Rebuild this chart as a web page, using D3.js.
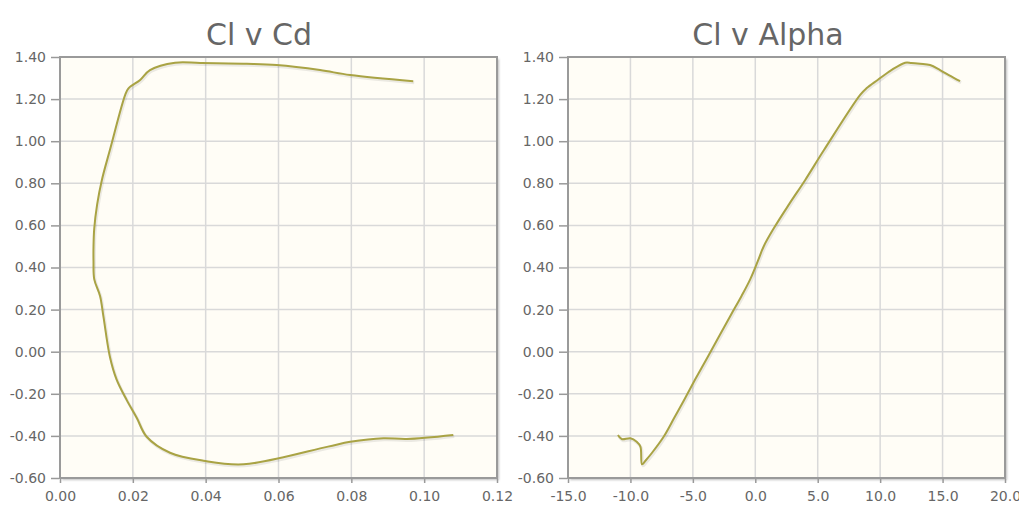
<!DOCTYPE html>
<html>
<head>
<meta charset="utf-8">
<script src="https://cdn.jsdelivr.net/npm/d3@7"></script>
<style>
  html, body { margin: 0; padding: 0; background: #ffffff; }
  svg { display: block; }
  .title { font-family: "DejaVu Sans", sans-serif; font-size: 30px; fill: #666666; }
  .tick text { font-family: "DejaVu Sans", sans-serif; font-size: 14px; fill: #666666; }
</style>
</head>
<body>
<svg id="chart" width="1019" height="508"></svg>
<script>
// Airfoil polar: angle of attack (deg), lift coefficient, drag coefficient
const alpha = [-11.0, -10.7, -10.0, -9.5, -9.2, -9.07, -8.8, -8.27, -7.34, -6.5, -5.7, -4.8, -3.8, -2.0, -1.1, -0.4, 0.2, 0.67, 1.47, 2.7, 4.0, 5.5, 8.4, 8.9, 9.8, 10.9, 12.0, 12.5, 13.2, 14.0, 14.8, 15.5, 16.4];
const cl    = [-0.396, -0.415, -0.411, -0.428, -0.451, -0.535, -0.518, -0.48, -0.404, -0.315, -0.229, -0.13, -0.024, 0.17, 0.265, 0.345, 0.43, 0.50, 0.585, 0.70, 0.816, 0.958, 1.22, 1.251, 1.291, 1.338, 1.373, 1.372, 1.368, 1.362, 1.338, 1.314, 1.285];
const cd    = [0.108, 0.0952, 0.0888, 0.0797, 0.0736, 0.0504, 0.0394, 0.0302, 0.0238, 0.0211, 0.0183, 0.0155, 0.0137, 0.0119, 0.011, 0.0094, 0.0092, 0.0092, 0.0094, 0.0102, 0.0115, 0.0137, 0.0179, 0.0188, 0.022, 0.0247, 0.0316, 0.0385, 0.0513, 0.0595, 0.0714, 0.0797, 0.097];

// Axis ticks
const clTicks    = [-0.6, -0.4, -0.2, 0.0, 0.2, 0.4, 0.6, 0.8, 1.0, 1.2, 1.4];
const cdTicks    = [0.00, 0.02, 0.04, 0.06, 0.08, 0.10, 0.12];
const alphaTicks = [-15, -10, -5, 0, 5, 10, 15, 20];

// Plain hyphen-minus labels with fixed decimals
const fixed = n => d => (Math.abs(d) < 1e-9 ? 0 : d).toFixed(n);

const svg = d3.select("#chart");

const panels = [
  { title: "Cl v Cd", titleX: 259, left: 60, right: 497,
    xs: cd, xDomain: [0, 0.12], xTicks: cdTicks, xFmt: fixed(2) },
  { title: "Cl v Alpha", titleX: 768, left: 568, right: 1005,
    xs: alpha, xDomain: [-15, 20], xTicks: alphaTicks, xFmt: fixed(1) }
];

const plotTop = 57, plotBottom = 478;

const defs = svg.append("defs");
const shadow = defs.append("filter").attr("id", "frameShadow")
  .attr("x", "-5%").attr("y", "-5%").attr("width", "110%").attr("height", "110%");
shadow.append("feDropShadow").attr("dx", 2).attr("dy", 2).attr("stdDeviation", 1.2)
  .attr("flood-color", "#000").attr("flood-opacity", 0.25);

panels.forEach(p => {
  const x = d3.scaleLinear().domain(p.xDomain).range([p.left, p.right]);
  const y = d3.scaleLinear().domain([-0.6, 1.4]).range([plotBottom, plotTop]);
  const g = svg.append("g");

  // Title
  g.append("text").attr("class", "title")
    .attr("x", p.titleX).attr("y", 45)
    .attr("text-anchor", "middle")
    .text(p.title);

  // Plot background with frame shadow
  g.append("rect")
    .attr("x", p.left).attr("y", plotTop)
    .attr("width", p.right - p.left).attr("height", plotBottom - plotTop)
    .attr("fill", "#fffdf6")
    .attr("filter", "url(#frameShadow)");

  // Grid lines
  const grid = g.append("g");
  grid.selectAll(".vg").data(p.xTicks.slice(1, -1)).join("line")
    .attr("x1", d => x(d)).attr("x2", d => x(d))
    .attr("y1", plotTop).attr("y2", plotBottom)
    .attr("stroke", "#d9d9d9").attr("stroke-width", 1.5);
  grid.selectAll(".hg").data(clTicks.slice(1, -1)).join("line")
    .attr("x1", p.left).attr("x2", p.right)
    .attr("y1", d => y(d)).attr("y2", d => y(d))
    .attr("stroke", "#d9d9d9").attr("stroke-width", 1.5);

  // Axes
  const xAxis = d3.axisBottom(x).tickValues(p.xTicks).tickFormat(p.xFmt)
    .tickSizeInner(4).tickSizeOuter(0).tickPadding(8);
  const yAxis = d3.axisLeft(y).tickValues(clTicks).tickFormat(fixed(2))
    .tickSizeInner(8).tickSizeOuter(0).tickPadding(5);

  const gx = g.append("g").attr("transform", `translate(0,${plotBottom + 1})`).call(xAxis);
  gx.select(".domain").remove();
  gx.selectAll(".tick line").attr("stroke", "#999").attr("stroke-width", 1.5);

  const gy = g.append("g").attr("transform", `translate(${p.left - 1},0)`).call(yAxis);
  gy.select(".domain").remove();
  gy.selectAll(".tick line").attr("stroke", "#999").attr("stroke-width", 1.5);

  // Frame
  g.append("rect")
    .attr("x", p.left).attr("y", plotTop)
    .attr("width", p.right - p.left).attr("height", plotBottom - plotTop)
    .attr("fill", "none").attr("stroke", "#9a9a9a").attr("stroke-width", 2);

  // Series
  const pts = p.xs.map((v, i) => [v, cl[i]]);
  const line = d3.line().x(d => x(d[0])).y(d => y(d[1]))
    .curve(d3.curveCatmullRom.alpha(0.5));

  g.append("path").datum(pts)
    .attr("d", line)
    .attr("fill", "none")
    .attr("stroke", "rgba(0,0,0,0.08)")
    .attr("stroke-width", 3)
    .attr("transform", "translate(1,1.5)");

  g.append("path").datum(pts)
    .attr("d", line)
    .attr("fill", "none")
    .attr("stroke", "#a9a344")
    .attr("stroke-width", 2)
    .attr("stroke-linejoin", "round");
});
</script>
</body>
</html>
